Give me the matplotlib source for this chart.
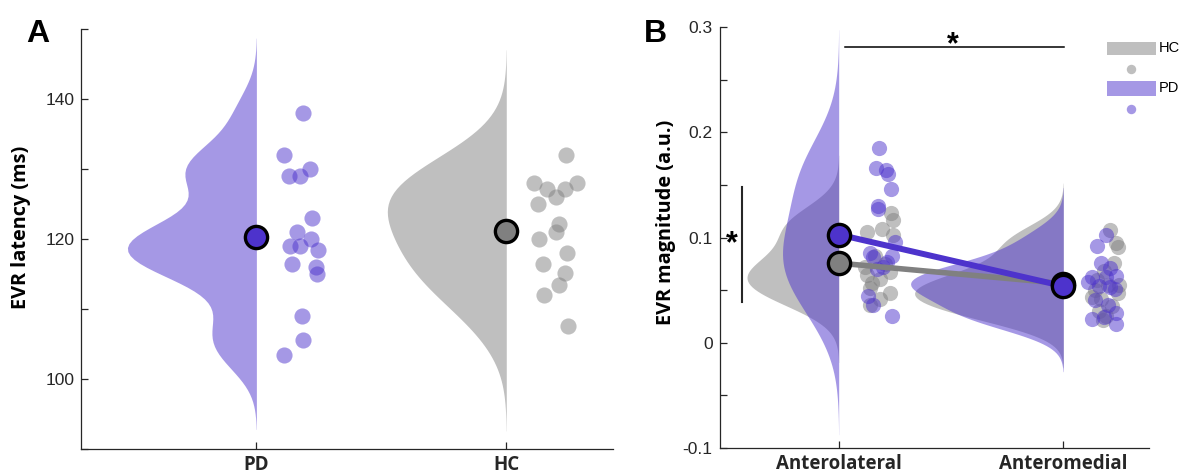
import numpy as np
import matplotlib
matplotlib.use('Agg')
import matplotlib.pyplot as plt
from matplotlib.patches import Rectangle
from matplotlib.lines import Line2D

# ---------------- data ----------------
# Panel A: EVR latency (ms)
groups_a = ['PD', 'HC']
pd_latency = [138.0, 132.0, 129.0, 129.0, 130.0, 123.0, 121.0, 120.0, 119.0,
              119.0, 118.4, 116.5, 116.0, 115.0, 109.0, 105.6, 103.5]
pd_latency_jit = [0.188, 0.110, 0.129, 0.176, 0.216, 0.221, 0.164, 0.220, 0.134,
                  0.173, 0.246, 0.144, 0.240, 0.241, 0.182, 0.188, 0.110]
hc_latency = [132.0, 128.0, 128.0, 127.1, 127.1, 126.0, 125.0, 122.1, 121.0,
              120.0, 118.0, 116.5, 115.1, 113.5, 112.0, 107.6]
hc_latency_jit = [0.238, 0.111, 0.283, 0.165, 0.235, 0.199, 0.127, 0.211, 0.201,
                  0.131, 0.245, 0.148, 0.235, 0.213, 0.152, 0.247]

# Panel B: EVR magnitude (a.u.)
conditions_b = ['Anterolateral', 'Anteromedial']
pd_al = [0.185, 0.166, 0.1645, 0.160, 0.1465, 0.130, 0.127, 0.096, 0.085,
         0.081, 0.0825, 0.072, 0.044, 0.036, 0.025, 0.077, 0.0705]
pd_al_jit = [0.179, 0.165, 0.209, 0.221, 0.234, 0.176, 0.174, 0.251, 0.139,
             0.154, 0.236, 0.199, 0.129, 0.151, 0.236, 0.214, 0.169]
hc_al = [0.1235, 0.117, 0.1085, 0.105, 0.102, 0.082, 0.075, 0.072, 0.067,
         0.064, 0.061, 0.057, 0.0516, 0.047, 0.042, 0.036]
hc_al_jit = [0.233, 0.242, 0.191, 0.125, 0.243, 0.162, 0.206, 0.117, 0.228,
             0.125, 0.184, 0.150, 0.139, 0.228, 0.184, 0.139]
pd_am = [0.102, 0.092, 0.076, 0.071, 0.063, 0.0626, 0.062, 0.058, 0.053,
         0.054, 0.051, 0.041, 0.036, 0.028, 0.024, 0.023, 0.018]
pd_am_jit = [0.192, 0.150, 0.170, 0.210, 0.234, 0.126, 0.190, 0.110, 0.209,
             0.160, 0.230, 0.140, 0.200, 0.234, 0.180, 0.126, 0.234]
hc_am = [0.107, 0.095, 0.091, 0.076, 0.068, 0.060, 0.055, 0.055, 0.050,
         0.047, 0.043, 0.042, 0.035, 0.030, 0.025, 0.0215]
hc_am_jit = [0.209, 0.234, 0.242, 0.226, 0.180, 0.150, 0.200, 0.250, 0.140,
             0.242, 0.126, 0.170, 0.215, 0.160, 0.190, 0.176]

# ---------------- style ----------------
PD_C = (0.3, 0.2, 0.8)
HC_C = (0.5, 0.5, 0.5)
AX_C = (0.15, 0.15, 0.15)
NUM_FONT = 'Liberation Sans'
LAB_FONT = 'Open Sans'


def ksdensity(x, n=100):
    x = np.asarray(x, float)
    sig = np.median(np.abs(x - np.median(x))) / 0.6745
    bw = sig * (4.0 / (3.0 * len(x))) ** 0.2
    yi = np.linspace(x.min() - 3 * bw, x.max() + 3 * bw, n)
    f = np.exp(-0.5 * ((yi[:, None] - x[None, :]) / bw) ** 2).sum(1)
    f /= len(x) * bw * np.sqrt(2 * np.pi)
    return yi, f


def half_violin(ax, pos, vals, color, width, z=1):
    yi, f = ksdensity(vals)
    ax.fill_betweenx(yi, pos - f / f.max() * width, pos, color=color,
                     alpha=0.5, lw=0, zorder=z)


def style_axis(ax):
    for s in ['top', 'right']:
        ax.spines[s].set_visible(False)
    for s in ['left', 'bottom']:
        ax.spines[s].set_color(AX_C)
        ax.spines[s].set_linewidth(0.9)
    ax.tick_params(direction='in', length=5, width=0.9, color=AX_C,
                   labelcolor=AX_C)
    ax.tick_params(axis='y', labelsize=12.5, pad=5)
    ax.tick_params(axis='x', pad=4)
    for lbl in ax.get_yticklabels():
        lbl.set_fontfamily(NUM_FONT)


fig = plt.figure(figsize=(11.84, 4.75), dpi=100)

# ---------------- Panel A ----------------
axA = fig.add_axes([0.0688, 0.0547, 0.4487, 0.8842])
pos_a = [1, 2]
half_violin(axA, pos_a[0], pd_latency, PD_C, 0.516)
half_violin(axA, pos_a[1], hc_latency, HC_C, 0.476)
axA.scatter(pos_a[0] + np.array(pd_latency_jit), pd_latency, s=135,
            color=PD_C, alpha=0.5, lw=0, zorder=3)
axA.scatter(pos_a[1] + np.array(hc_latency_jit), hc_latency, s=135,
            color=HC_C, alpha=0.5, lw=0, zorder=3)
axA.plot(pos_a[0], np.mean(pd_latency), 'o', ms=16, mfc=PD_C, mec='k',
         mew=2.4, zorder=5)
axA.plot(pos_a[1], np.mean(hc_latency), 'o', ms=16, mfc=HC_C, mec='k',
         mew=2.4, zorder=5)
axA.set_xlim(0.30, 2.426)
axA.set_ylim(90, 150)
axA.set_yticks(np.arange(90, 151, 10))
axA.set_yticklabels(['' if v % 20 else str(v) for v in range(90, 151, 10)])
axA.set_xticks(pos_a)
axA.set_xticklabels(groups_a, fontfamily=LAB_FONT, fontweight='bold',
                    fontsize=13.5, color='black')
style_axis(axA)
axA.set_ylabel('EVR latency (ms)', fontfamily=LAB_FONT, fontweight='bold',
               fontsize=14.3, color='black')
axA.yaxis.set_label_coords(-0.095, 0.527)

# ---------------- Panel B ----------------
axB = fig.add_axes([0.6078, 0.0568, 0.3629, 0.8864])
pos_b = [1, 2]
half_violin(axB, pos_b[0], hc_al, HC_C, 0.408, z=1)
half_violin(axB, pos_b[0], pd_al, PD_C, 0.25, z=1.1)
half_violin(axB, pos_b[1], hc_am, HC_C, 0.662, z=1)
half_violin(axB, pos_b[1], pd_am, PD_C, 0.68, z=1.1)
for vals, jit, pos, c in [(hc_al, hc_al_jit, pos_b[0], HC_C),
                          (pd_al, pd_al_jit, pos_b[0], PD_C),
                          (hc_am, hc_am_jit, pos_b[1], HC_C),
                          (pd_am, pd_am_jit, pos_b[1], PD_C)]:
    axB.scatter(pos + np.array(jit), vals, s=120, color=c, alpha=0.5, lw=0,
                zorder=3)
hc_means = [np.mean(hc_al), np.mean(hc_am)]
pd_means = [np.mean(pd_al), np.mean(pd_am)]
axB.plot(pos_b, hc_means, '-', color=HC_C, lw=4.0, zorder=4)
axB.plot(pos_b, pd_means, '-', color=PD_C, lw=4.3, zorder=4.1)
axB.plot(pos_b, hc_means, 'o', ms=16, mfc=HC_C, mec='k', mew=2.4, zorder=5)
axB.plot(pos_b, pd_means, 'o', ms=16, mfc=PD_C, mec='k', mew=2.4, zorder=5.1)
axB.set_xlim(0.47, 2.383)
axB.set_ylim(-0.1, 0.3)
bt = np.round(np.arange(-0.1, 0.301, 0.05), 2)
axB.set_yticks(bt)
axB.set_yticklabels([('%g' % v) if abs(round(v * 20)) % 2 == 0 else ''
                     for v in bt])
axB.set_xticks(pos_b)
axB.set_xticklabels(conditions_b, fontfamily=LAB_FONT, fontweight='bold',
                    fontsize=13.5, color='black')
style_axis(axB)
axB.set_ylabel('EVR magnitude (a.u.)', fontfamily=LAB_FONT, fontweight='bold',
               fontsize=14.3, color='black')
axB.yaxis.set_label_coords(-0.1008, 0.536)

# significance annotations
axB.plot([1.027, 2.002], [0.2812, 0.2812], color='black', lw=1.1,
         clip_on=False, zorder=6)
axB.text(1.51, 0.283, '*', ha='center', va='center', fontsize=22,
         fontweight='bold', fontfamily=NUM_FONT)
axB.plot([0.568, 0.568], [0.039, 0.148], color=AX_C, lw=1.5, clip_on=False)
axB.text(0.526, 0.094, '*', ha='center', va='center', fontsize=22,
         fontweight='bold', fontfamily=NUM_FONT)

# legend (manual)
def fig_rect(x0, y0, x1, y1, c):
    fig.add_artist(Rectangle((x0 / 1184, 1 - y1 / 475), (x1 - x0) / 1184,
                             (y1 - y0) / 475, transform=fig.transFigure,
                             color=c, alpha=0.5, lw=0))


def fig_dot(x, y, c):
    fig.add_artist(Line2D([x / 1184], [1 - y / 475], marker='o', ms=6.8,
                          color=c, alpha=0.5, mew=0, ls='none',
                          transform=fig.transFigure))


fig_rect(1106.7, 41.7, 1155.7, 55.0, HC_C)
fig_dot(1130.7, 69.0, HC_C)
fig_rect(1106.7, 81.0, 1155.7, 96.0, PD_C)
fig_dot(1130.7, 109.3, PD_C)
fig.text(1159 / 1184, 1 - 48.5 / 475, 'HC', fontsize=10.5, fontfamily=NUM_FONT,
         va='center', ha='left', color='black')
fig.text(1159 / 1184, 1 - 88.5 / 475, 'PD', fontsize=10.5, fontfamily=NUM_FONT,
         va='center', ha='left', color='black')

# panel letters
fig.text(26 / 1184, 1 - 42 / 475, 'A', fontsize=23, fontweight='bold',
         fontfamily=NUM_FONT, ha='left', va='baseline')
fig.text(644 / 1184, 1 - 42 / 475, 'B', fontsize=23, fontweight='bold',
         fontfamily=NUM_FONT, ha='left', va='baseline')

fig.savefig('out.png', dpi=100)
